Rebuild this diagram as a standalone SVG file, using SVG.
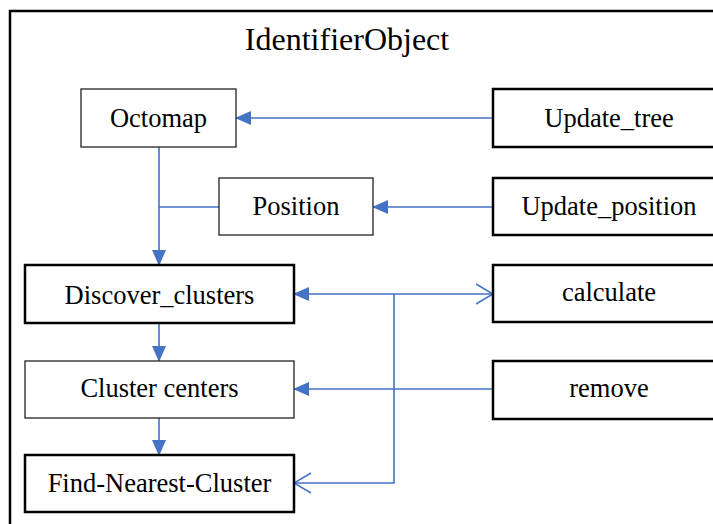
<svg xmlns="http://www.w3.org/2000/svg" width="713" height="524" viewBox="0 0 713 524">
<defs>
<style>
.t{font-family:"Liberation Serif","Times New Roman",serif;font-size:26.5px;fill:#000;text-anchor:middle}
.thin{fill:#fff;stroke:#222;stroke-width:1.3}
.thick{fill:#fff;stroke:#000;stroke-width:2.5}
.c{fill:none;stroke:#4472C4;stroke-width:1.6}
</style>
<marker id="fa" viewBox="0 0 16 14" refX="15" refY="7" markerWidth="16" markerHeight="14" markerUnits="userSpaceOnUse" orient="auto">
<path d="M0,0 L16,7 L0,14 Z" fill="#4472C4"/>
</marker>
<marker id="oa" viewBox="0 0 18 22" refX="17" refY="11" markerWidth="18" markerHeight="22" markerUnits="userSpaceOnUse" orient="auto">
<path d="M0,1 L17,11 L0,21" fill="none" stroke="#4472C4" stroke-width="1.6"/>
</marker>
</defs>
<rect width="713" height="524" fill="#fff"/>
<g id="frame">
<rect x="10" y="11" width="720" height="530" fill="none" stroke="#000" stroke-width="2.5"/>
<text x="347" y="50" style="font-family:'Liberation Serif','Times New Roman',serif;font-size:32px;text-anchor:middle">IdentifierObject</text>
</g>
<g id="connectors">
<path class="c" d="M493,118 H236" marker-end="url(#fa)"/>
<path class="c" d="M493,207 H373" marker-end="url(#fa)"/>
<path class="c" d="M159,147 V265" marker-end="url(#fa)"/>
<path class="c" d="M219,207 H159"/>
<path class="c" d="M159,323 V361" marker-end="url(#fa)"/>
<path class="c" d="M159,418 V455" marker-end="url(#fa)"/>
<path class="c" d="M493,389 H294" marker-end="url(#fa)"/>
<path class="c" d="M394,294 H294" marker-end="url(#fa)"/>
<path class="c" d="M394,294 H493" marker-end="url(#oa)"/>
<path class="c" d="M394,294 V483 H294" marker-end="url(#oa)"/>
</g>
<g id="octomap"><rect class="thin" x="81" y="89" width="155" height="58"/><text class="t" x="158.5" y="127">Octomap</text></g>
<g id="update_tree"><rect class="thick" x="493" y="89" width="240" height="58"/><text class="t" x="609" y="127">Update_tree</text></g>
<g id="position"><rect class="thin" x="219" y="178" width="154" height="57"/><text class="t" x="296" y="215">Position</text></g>
<g id="update_position"><rect class="thick" x="493" y="178" width="240" height="57"/><text class="t" x="609" y="215">Update_position</text></g>
<g id="discover_clusters"><rect class="thick" x="25" y="265" width="269" height="58"/><text class="t" x="159.5" y="304">Discover_clusters</text></g>
<g id="calculate"><rect class="thick" x="493" y="265" width="240" height="57"/><text class="t" x="609" y="301">calculate</text></g>
<g id="cluster_centers"><rect class="thin" x="25" y="361" width="269" height="57"/><text class="t" x="159.5" y="397">Cluster centers</text></g>
<g id="remove"><rect class="thick" x="493" y="361" width="240" height="58"/><text class="t" x="609" y="397">remove</text></g>
<g id="find_nearest_cluster"><rect class="thick" x="25" y="455" width="269" height="57"/><text class="t" x="159.5" y="492">Find-Nearest-Cluster</text></g>
</svg>
